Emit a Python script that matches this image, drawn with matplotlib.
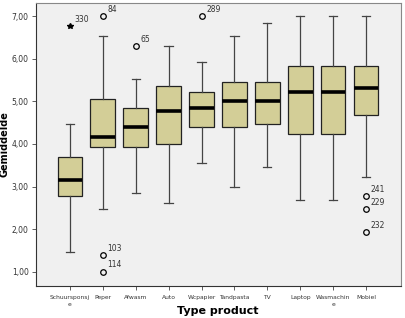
import matplotlib
matplotlib.use("Agg")
import matplotlib.pyplot as plt

categories = ["Schuursponsj\ne", "Peper", "Afwasm", "Auto", "Wcpapier", "Tandpasta", "TV", "Laptop", "Wasmachin\ne", "Mobiel"]
whislo = [1.46, 2.47, 2.84, 2.62, 3.55, 3.00, 3.47, 2.69, 2.69, 3.23]
q1     = [2.78, 3.93, 3.93, 4.00, 4.39, 4.39, 4.46, 4.23, 4.23, 4.69]
med    = [3.15, 4.16, 4.39, 4.77, 4.85, 5.00, 5.00, 5.23, 5.23, 5.31]
q3     = [3.69, 5.06, 4.84, 5.37, 5.23, 5.46, 5.46, 5.84, 5.84, 5.84]
whishi = [4.46, 6.54, 5.53, 6.30, 5.93, 6.54, 6.84, 7.00, 7.00, 7.00]
# outliers: (category index, value, case label, is_extreme)
outliers = [(0, 6.77, "330", True), (1, 7.00, "84", False), (1, 1.39, "103", False),
            (1, 1.00, "114", False), (2, 6.31, "65", False), (4, 7.00, "289", False),
            (9, 2.78, "241", False), (9, 2.47, "229", False), (9, 1.93, "232", False)]
yticks = [1, 2, 3, 4, 5, 6, 7]
ytick_labels = ["1,00", "2,00", "3,00", "4,00", "5,00", "6,00", "7,00"]

fig = plt.figure(figsize=(4.05, 3.18), dpi=100)
ax = fig.add_axes([0.088, 0.1016, 0.902, 0.8899])
ax.set_facecolor("#F0F0F0")

stats = []
for i in range(len(categories)):
    stats.append(dict(whislo=whislo[i], q1=q1[i], med=med[i], q3=q3[i], whishi=whishi[i], fliers=[]))

pos = list(range(len(categories)))
ax.bxp(stats, positions=pos, widths=0.75, capwidths=0.25, patch_artist=True, showfliers=False,
       boxprops=dict(facecolor="#D3CE97", edgecolor="#222222", linewidth=0.9),
       medianprops=dict(color="black", linewidth=2.6, solid_capstyle="butt"),
       whiskerprops=dict(color="#444444", linewidth=0.9),
       capprops=dict(color="#444444", linewidth=0.9))

for ci, v, lab, ext in outliers:
    if ext:
        ax.plot(ci, v, marker="*", ms=4, color="black", mec="black", zorder=4)
    else:
        ax.plot(ci, v, marker="o", ms=4, mfc="none", mec="black", mew=0.9, zorder=4)
    ax.annotate(lab, (ci, v), xytext=(3.5, 3), textcoords="offset points",
                fontsize=5.5, color="#333333")

ax.set_xlim(-1.04, 10.06)
ax.set_ylim(0.67, 7.32)
ax.set_yticks(yticks)
ax.set_yticklabels(ytick_labels, fontsize=5.5, color="#333333")
ax.set_xticks(pos)
ax.set_xticklabels(categories, fontsize=4.3, color="#333333", linespacing=1.5)
ax.tick_params(axis="both", direction="out", length=3, width=0.6, color="#444444", pad=2)
ax.tick_params(axis="x", pad=4)
for s in ax.spines.values():
    s.set_color("#888888")
    s.set_linewidth(0.8)
ax.spines["left"].set_color("#333333")
ax.spines["bottom"].set_color("#333333")

fig.text(218 / 405, 2 / 318, "Type product", fontsize=8, fontweight="bold",
         ha="center", va="bottom")
fig.text(5 / 405, 1 - 144 / 318, "Gemiddelde", fontsize=7, fontweight="bold",
         ha="center", va="center", rotation=90)

fig.savefig("out.png", dpi=100, facecolor="white")
